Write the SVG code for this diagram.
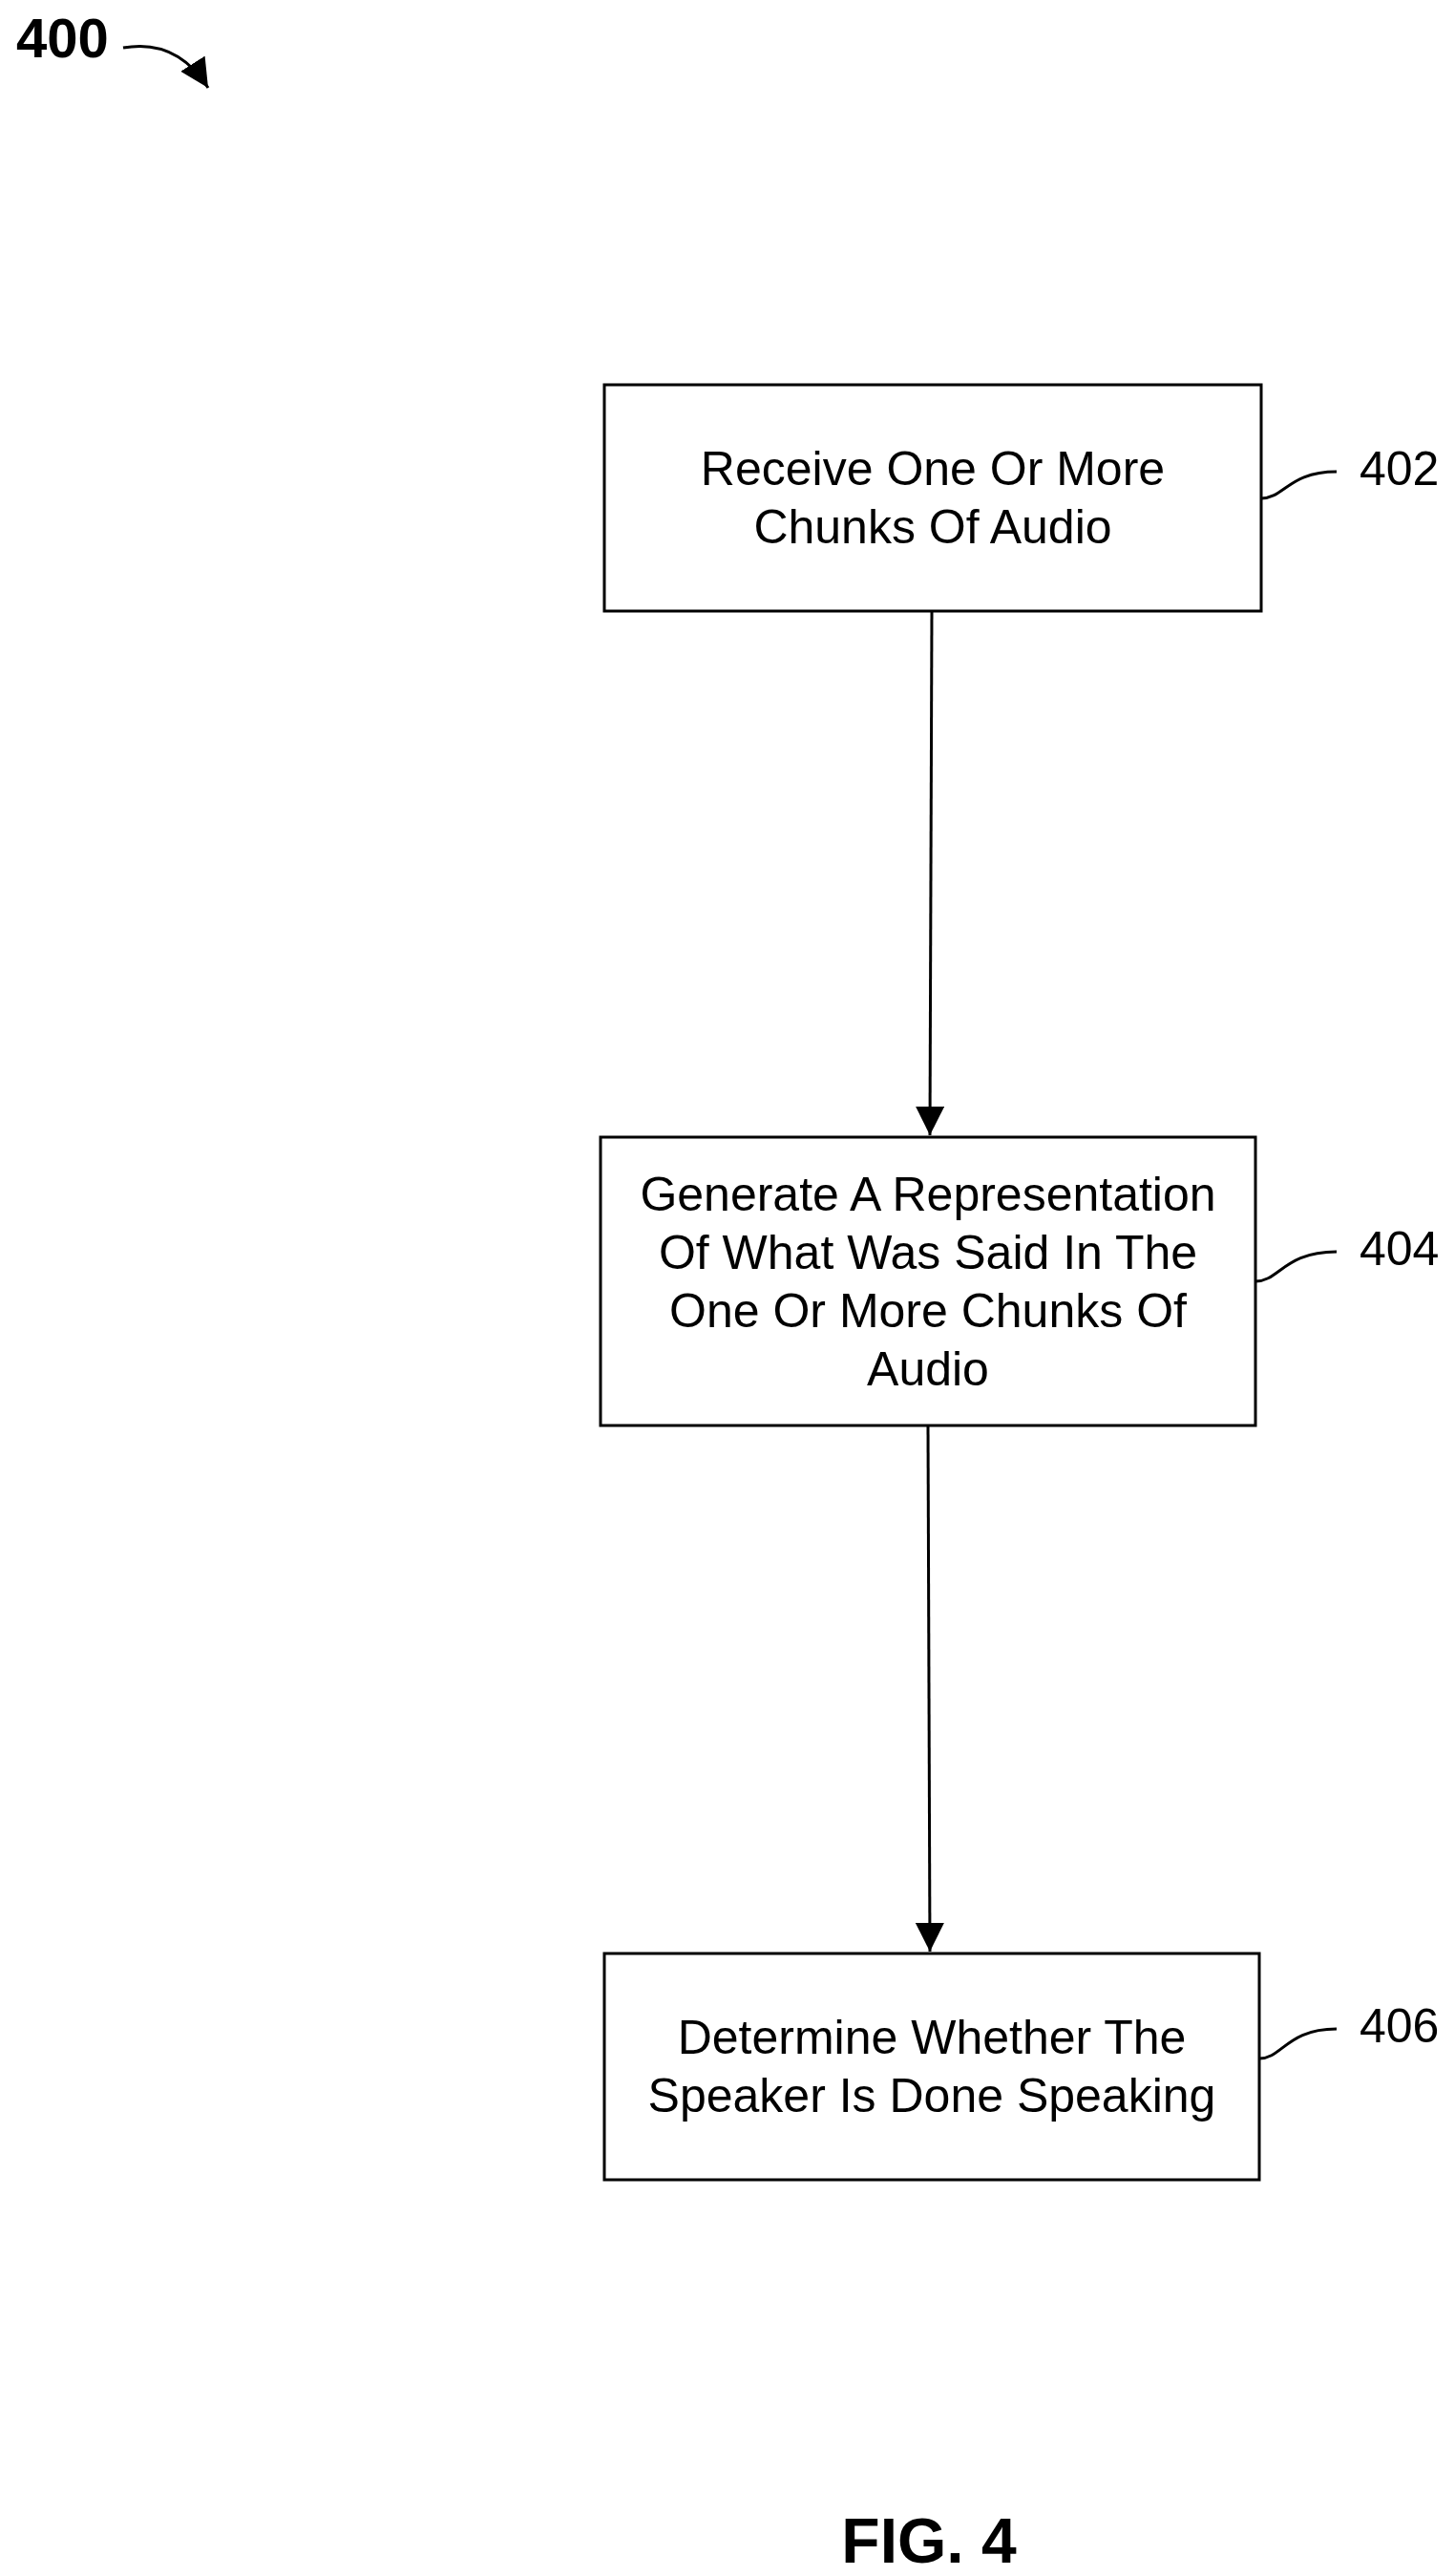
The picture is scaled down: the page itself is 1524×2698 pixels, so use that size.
<svg xmlns="http://www.w3.org/2000/svg" width="1524" height="2698" viewBox="0 0 1524 2698">
<defs>
<marker id="ah2" markerWidth="30" markerHeight="30" refX="10" refY="5" orient="auto" markerUnits="userSpaceOnUse" viewBox="0 0 10 10"><path d="M0,0 L10,5 L0,10 Z" fill="#000"/></marker>
</defs>
<style>
.box{fill:#fff;stroke:#000;stroke-width:3}
.t{font-family:"Liberation Sans",Arial,sans-serif;font-size:50px;text-anchor:middle;fill:#000}
.lbl{font-family:"Liberation Sans",Arial,sans-serif;font-size:50px;fill:#000}
.c{fill:none;stroke:#000;stroke-width:3}
</style>
<rect width="1524" height="2698" fill="#fff"/>
<g id="ref400">
<text x="17" y="60" font-family="Liberation Sans,Arial,sans-serif" font-size="58" font-weight="bold">400</text>
<path class="c" d="M129,50 Q185,40 218,92" marker-end="url(#ah2)"/>
</g>
<g id="n402">
<rect class="box" x="633" y="403" width="688" height="237"/>
<text class="t" x="977" y="508">Receive One Or More</text>
<text class="t" x="977" y="569">Chunks Of Audio</text>
<path class="c" d="M1321,522 C1345,522 1350,494 1400,494"/>
<text class="lbl" x="1424" y="508">402</text>
</g>
<g id="n404">
<rect class="box" x="629" y="1191" width="686" height="302"/>
<text class="t" x="972" y="1268">Generate A Representation</text>
<text class="t" x="972" y="1329">Of What Was Said In The</text>
<text class="t" x="972" y="1390">One Or More Chunks Of</text>
<text class="t" x="972" y="1451">Audio</text>
<path class="c" d="M1315,1342 C1340,1342 1345,1311 1400,1311"/>
<text class="lbl" x="1424" y="1325">404</text>
</g>
<g id="n406">
<rect class="box" x="633" y="2046" width="686" height="237"/>
<text class="t" x="976" y="2151">Determine Whether The</text>
<text class="t" x="976" y="2212">Speaker Is Done Speaking</text>
<path class="c" d="M1319,2156 C1343,2156 1348,2125 1400,2125"/>
<text class="lbl" x="1424" y="2139">406</text>
</g>
<g id="connectors">
<line class="c" x1="976" y1="640" x2="974" y2="1189" marker-end="url(#ah2)"/>
<line class="c" x1="972" y1="1493" x2="974" y2="2044" marker-end="url(#ah2)"/>
</g>
<text x="973" y="2684" font-family="Liberation Sans,Arial,sans-serif" font-size="66" font-weight="bold" text-anchor="middle">FIG. 4</text>
</svg>
